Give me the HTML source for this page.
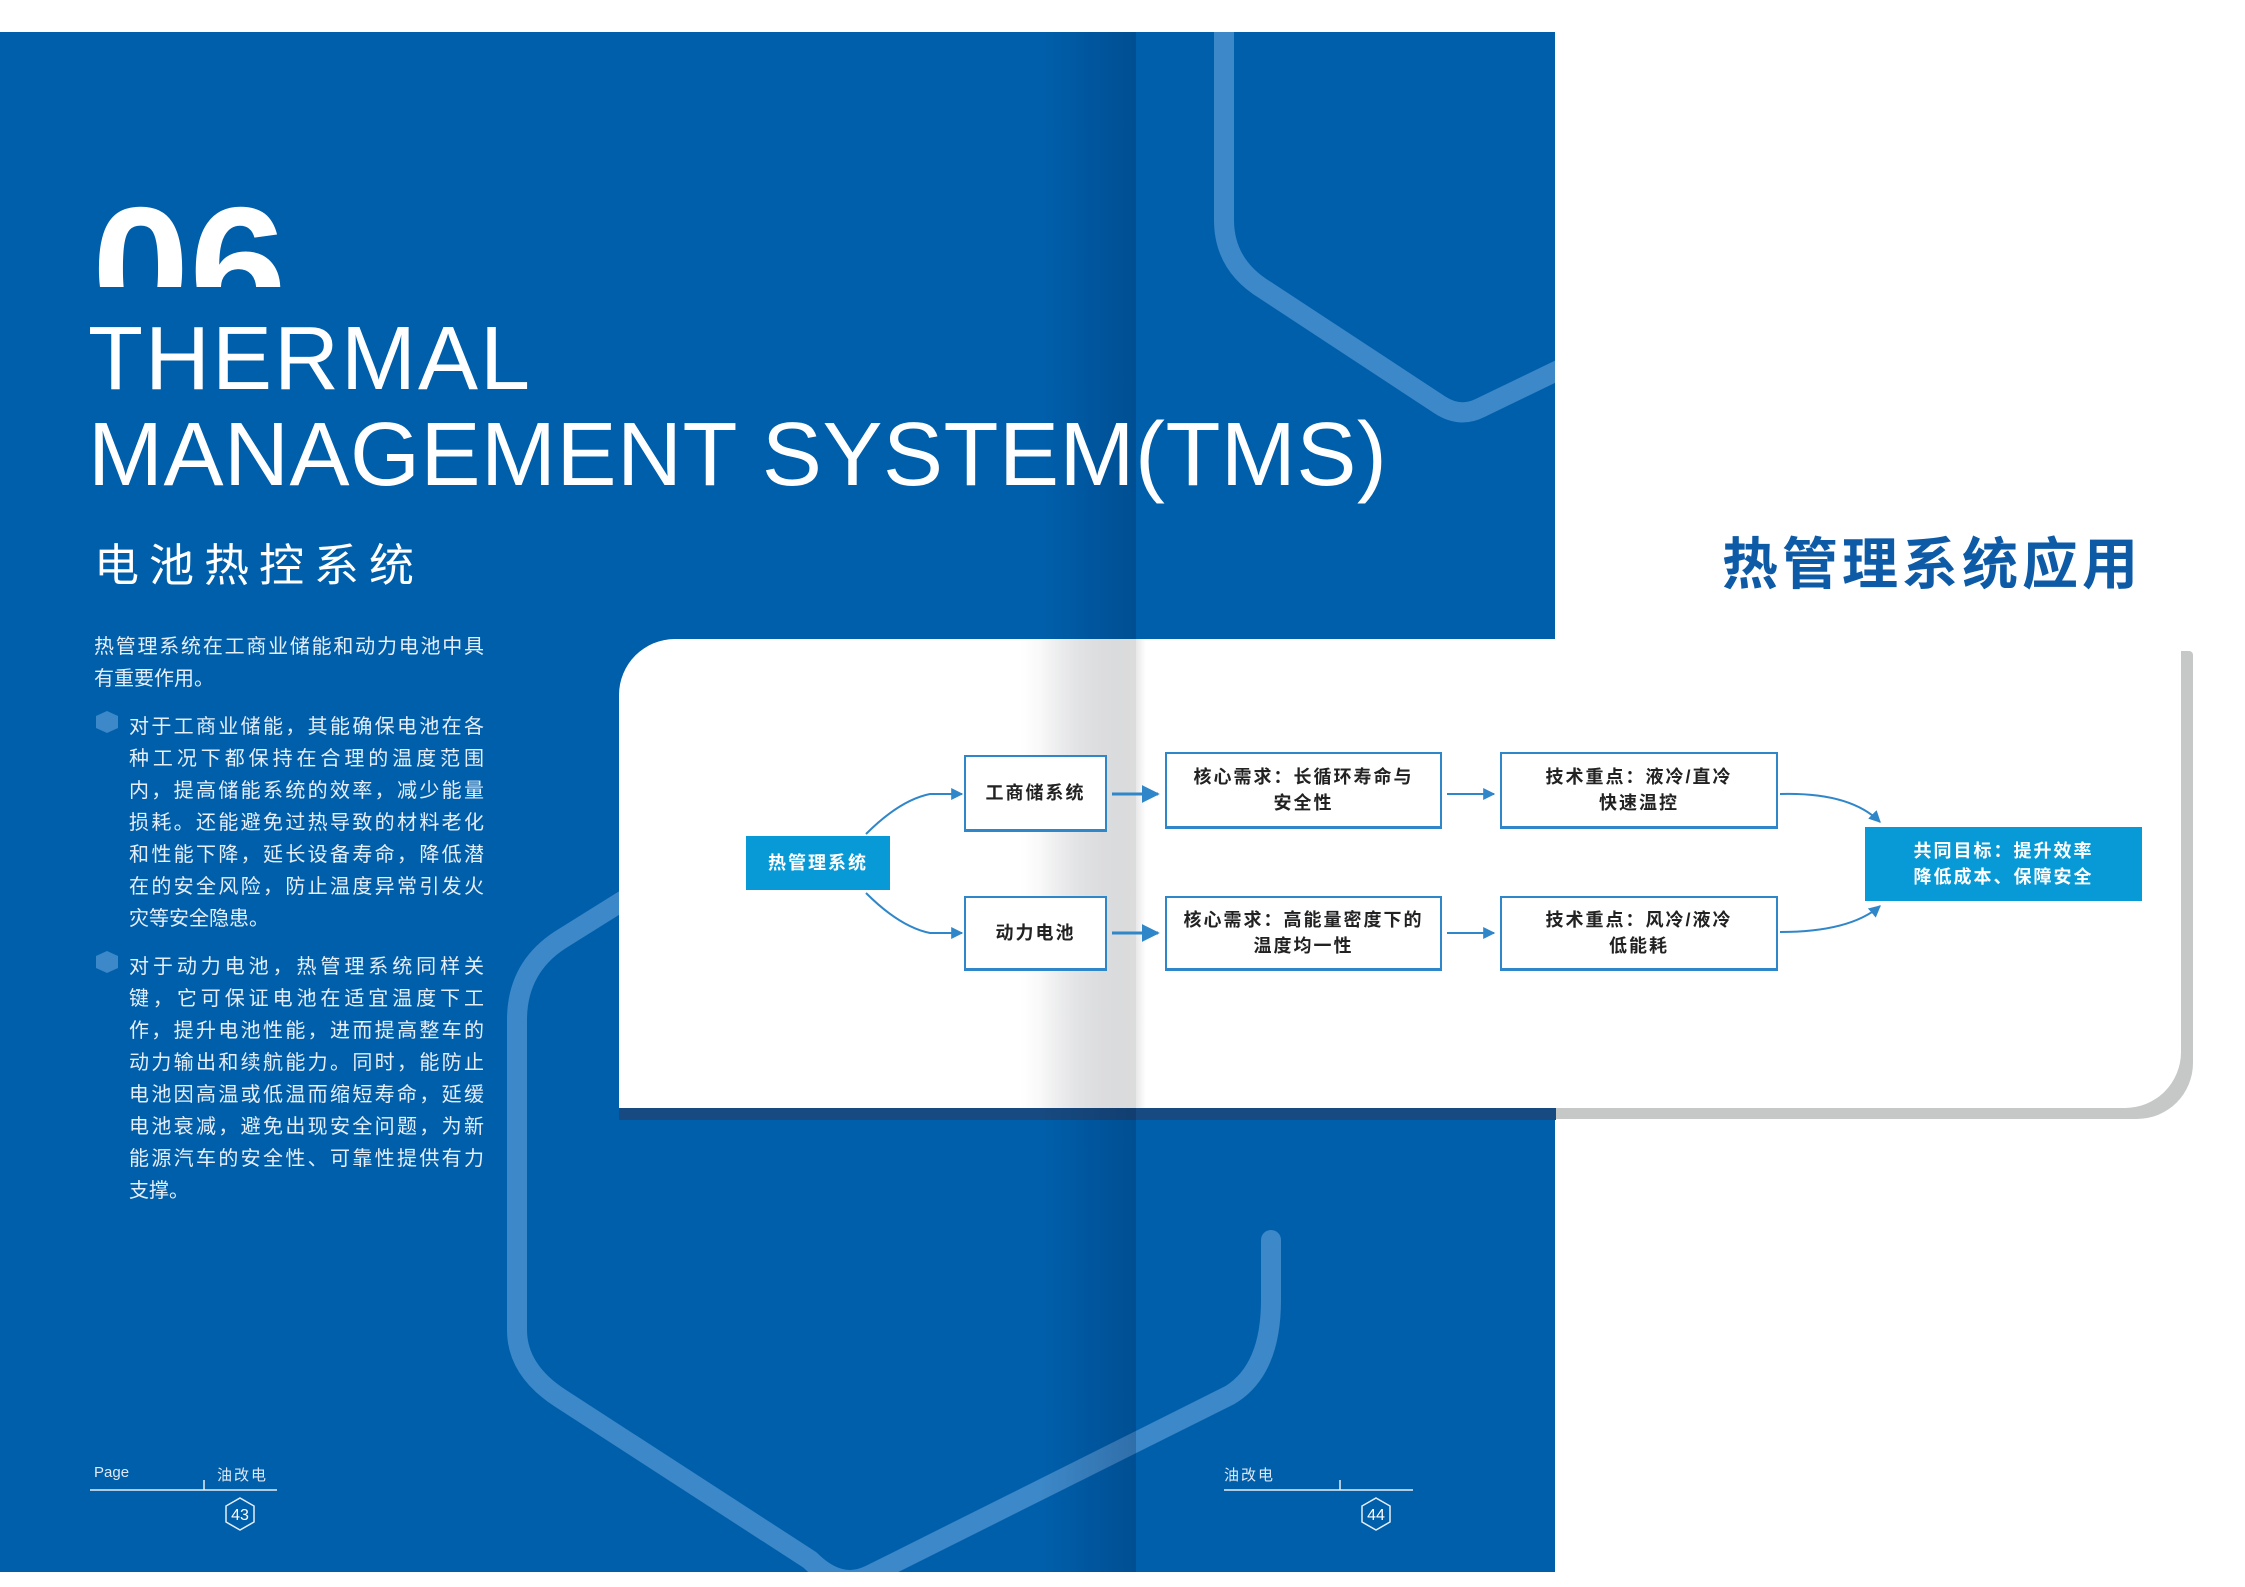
<!DOCTYPE html>
<html><head><meta charset="utf-8"><style>
*{margin:0;padding:0;box-sizing:border-box}
body{width:2245px;height:1587px;position:relative;overflow:hidden;background:#fff;font-family:"Liberation Sans","Noto Sans CJK SC",sans-serif}
.abs{position:absolute}
.blue{left:0;top:32px;width:1555px;height:1540px;background:#005fab}
.t{color:#fff;white-space:nowrap}
.para{left:94px;width:392px;color:#e6eef7;font-size:20px;line-height:32px}
.para div{text-align:justify;text-align-last:justify;height:32px}
.para div.l{text-align-last:left}
.box{position:absolute;border:2px solid #2f86c8;border-bottom-width:3px;background:#fff;display:flex;align-items:center;justify-content:center;text-align:center;font-weight:bold;font-size:18px;line-height:26px;letter-spacing:2px;color:#222}
.fill{background:#079ad6;border:none;color:#fff}
</style></head><body>
<div class="abs blue"></div>
<svg class="abs" style="left:0;top:0" width="2245" height="1587">
<defs><clipPath id="c"><rect x="0" y="32" width="1555" height="1540"/></clipPath></defs>
<g fill="none" stroke="#3d88c8" stroke-width="20" stroke-linecap="round" stroke-linejoin="round" clip-path="url(#c)">
<path d="M1224 0 L1224 220 Q1224 265 1265 290 L1440 405 Q1460 418 1480 408 L1600 350"/>
<path d="M640 890 L560 940 Q517 968 517 1020 L517 1330 Q517 1370 560 1398 L810 1560 Q840 1590 870 1575 L1230 1395 Q1271 1370 1271 1300 L1271 1240"/>
</g>
</svg>
<!-- card shadow -->
<div class="abs" style="left:631px;top:651px;width:1562px;height:468px;background:#c6c8c8;border-radius:56px 4px 56px 0"></div>
<div class="abs" style="left:619px;top:1108px;width:937px;height:12px;background:#174a80"></div>
<div class="abs" style="left:619px;top:639px;width:1562px;height:469px;background:#fff;border-radius:56px 4px 56px 0"></div>
<!-- spine -->
<div class="abs" style="left:1040px;top:32px;width:96px;height:1540px;background:linear-gradient(90deg,rgba(0,0,0,0),rgba(0,20,60,0.22))"></div>
<div class="abs" style="left:1020px;top:639px;width:116px;height:469px;background:linear-gradient(90deg,rgba(255,255,255,0),#dcdcdc)"></div>
<div class="abs" style="left:1136px;top:639px;width:10px;height:469px;background:linear-gradient(90deg,#e8e8e8,#fff)"></div>

<div class="abs" style="left:92px;top:180px;height:107px;overflow:hidden"><div class="t" style="font-size:175px;line-height:180px;font-weight:bold;letter-spacing:0px">06</div></div>
<div class="abs t" style="left:88px;top:313px;font-size:90px;line-height:92px;letter-spacing:2px">THERMAL</div>
<div class="abs t" style="left:88px;top:409px;font-size:90px;line-height:92px;letter-spacing:0.5px">MANAGEMENT SYSTEM(TMS)</div>
<div class="abs t" style="left:94px;top:538px;font-size:45px;line-height:56px;letter-spacing:10px">电池热控系统</div>

<div class="abs para" style="top:631px;left:94px;width:390px">
<div>热管理系统在工商业储能和动力电池中具</div><div class="l">有重要作用。</div></div>
<div class="abs para" style="top:711px;left:129px;width:355px">
<div>对于工商业储能，其能确保电池在各</div><div>种工况下都保持在合理的温度范围</div><div>内，提高储能系统的效率，减少能量</div><div>损耗。还能避免过热导致的材料老化</div><div>和性能下降，延长设备寿命，降低潜</div><div>在的安全风险，防止温度异常引发火</div><div class="l">灾等安全隐患。</div></div>
<div class="abs para" style="top:951px;left:129px;width:355px">
<div>对于动力电池，热管理系统同样关</div><div>键，它可保证电池在适宜温度下工</div><div>作，提升电池性能，进而提高整车的</div><div>动力输出和续航能力。同时，能防止</div><div>电池因高温或低温而缩短寿命，延缓</div><div>电池衰减，避免出现安全问题，为新</div><div>能源汽车的安全性、可靠性提供有力</div><div class="l">支撑。</div></div>
<svg class="abs" style="left:94px;top:710px" width="26" height="280"><polygon points="13,1 24,6 24,18 13,23 2,18 2,6" fill="#3d88c8"/><polygon points="13,241 24,246 24,258 13,263 2,258 2,246" fill="#3d88c8"/></svg>

<!-- footers -->
<div class="abs t" style="left:94px;top:1464px;font-size:15px;color:#dfe8f3">Page</div>
<div class="abs t" style="left:217px;top:1464px;font-size:15px;color:#dfe8f3;letter-spacing:2px">油改电</div>
<div class="abs t" style="left:1224px;top:1464px;font-size:15px;color:#dfe8f3;letter-spacing:2px">油改电</div>
<svg class="abs" style="left:0;top:1470px" width="1555" height="80" fill="none" stroke="#e6eef7" stroke-width="1.5">
<path d="M90 20 H277 M204 20 V10 M1224 20 H1413 M1340 20 V10"/>
<polygon points="240,28 254,36 254,52 240,60 226,52 226,36"/>
<polygon points="1376,28 1390,36 1390,52 1376,60 1362,52 1362,36"/>
<text x="240" y="50" fill="#fff" stroke="none" font-size="16" text-anchor="middle" font-family="Liberation Sans">43</text>
<text x="1376" y="50" fill="#fff" stroke="none" font-size="16" text-anchor="middle" font-family="Liberation Sans">44</text>
</svg>

<div class="abs" style="left:1722px;top:533px;font-size:56px;line-height:64px;font-weight:bold;color:#0d5aa6;letter-spacing:4px;white-space:nowrap">热管理系统应用</div>

<!-- diagram -->
<div class="box fill" style="left:746px;top:836px;width:144px;height:54px">热管理系统</div>
<div class="box" style="left:964px;top:755px;width:143px;height:77px">工商储系统</div>
<div class="box" style="left:964px;top:896px;width:143px;height:75px">动力电池</div>
<div class="box" style="left:1165px;top:752px;width:277px;height:77px">核心需求：长循环寿命与<br>安全性</div>
<div class="box" style="left:1165px;top:896px;width:277px;height:75px">核心需求：高能量密度下的<br>温度均一性</div>
<div class="box" style="left:1500px;top:752px;width:278px;height:77px">技术重点：液冷/直冷<br>快速温控</div>
<div class="box" style="left:1500px;top:896px;width:278px;height:75px">技术重点：风冷/液冷<br>低能耗</div>
<div class="box fill" style="left:1865px;top:827px;width:277px;height:74px">共同目标：提升效率<br>降低成本、保障安全</div>
<svg class="abs" style="left:0;top:0" width="2245" height="1587" fill="none" stroke="#2f86c8" stroke-width="2">
<defs><marker id="a" viewBox="0 0 10 10" refX="9" refY="5" markerWidth="6" markerHeight="6" orient="auto"><path d="M0 0 L10 5 L0 10 Z" fill="#2f86c8" stroke="none"/></marker></defs>
<path d="M866 834 Q900 800 930 794 L962 794" marker-end="url(#a)"/>
<path d="M866 893 Q900 927 930 933 L962 933" marker-end="url(#a)"/>
<path d="M1112 794 H1158" stroke-width="3" marker-end="url(#a)"/>
<path d="M1112 933 H1158" stroke-width="3" marker-end="url(#a)"/>
<path d="M1447 794 H1494" marker-end="url(#a)"/>
<path d="M1447 933 H1494" marker-end="url(#a)"/>
<path d="M1780 794 Q1850 792 1880 822" marker-end="url(#a)"/>
<path d="M1780 932 Q1850 932 1880 906" marker-end="url(#a)"/>
</svg>
</body></html>
